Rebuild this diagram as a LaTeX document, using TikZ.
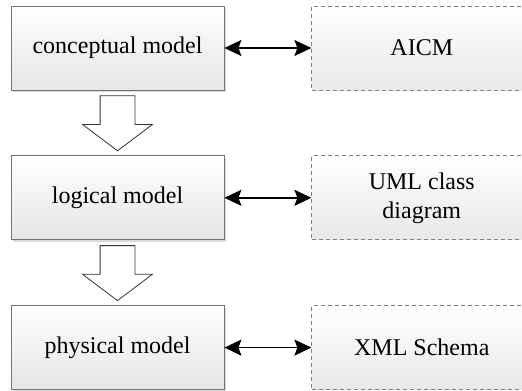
\documentclass[tikz,border=0pt]{standalone}
\usepackage{fontspec}
\setmainfont{Liberation Serif}
\usetikzlibrary{shapes,arrows.meta,positioning,shadows}
\tikzstyle{model} = [rectangle, draw=black!55, top color=white, bottom color=black!10, minimum width=106.5pt, minimum height=42pt, align=center, font=\fontsize{12pt}{14.5pt}\selectfont, drop shadow={shadow xshift=1.2pt, shadow yshift=-1.2pt, fill=black!25, opacity=0.6}]
\tikzstyle{format} = [rectangle, draw=black!50, dash pattern=on 2pt off 1.5pt, top color=white, bottom color=black!9, minimum width=110pt, minimum height=42pt, align=center, font=\fontsize{12pt}{14.5pt}\selectfont]
\tikzstyle{line} = [draw, line width=0.8pt, {Stealth[length=8.5pt,width=8pt,inset=1.5pt]}-{Stealth[length=8.5pt,width=8pt,inset=1.5pt]}]
\tikzstyle{hollow} = [single arrow, draw=black!80, fill=white, rotate=270, anchor=tail, minimum height=27.5pt, single arrow head extend=8.75pt, single arrow tip angle=106, inner sep=0pt]

\begin{document}
\begin{tikzpicture}
    \useasboundingbox (0,0) rectangle (261pt,-195pt);
    \node [model] (cm) at (58.75pt,-24pt) {conceptual model};
    \node [model, below=32.5pt of cm] (lm) {logical model};
    \node [model, below=32.5pt of lm] (pm) {physical model};
    \node [format, right=43.5pt of cm] (aicm) {AICM};
    \node [format, right=43.5pt of lm] (uml) {UML class\\diagram};
    \node [format, right=43.5pt of pm] (xsd) {XML Schema};
    \node [hollow] (a1) at ([yshift=-2.5pt]cm.south) {\rule{0pt}{17pt}};
    \node [hollow] (a2) at ([yshift=-2.5pt]lm.south) {\rule{0pt}{17pt}};
    \path [line] (cm) -- (aicm);
    \path [line] (lm) -- (uml);
    \path [line] (pm) -- (xsd);
\end{tikzpicture}
\end{document}
